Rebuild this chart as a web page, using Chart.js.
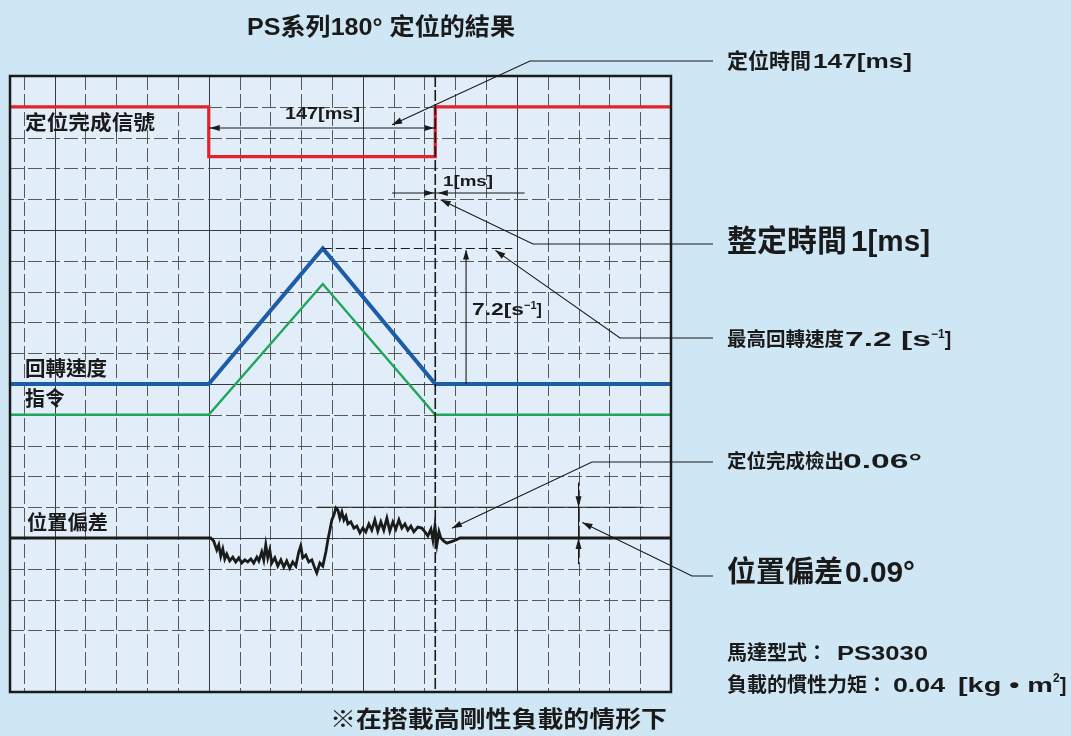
<!DOCTYPE html>
<html>
<head>
<meta charset="utf-8">
<title>PS系列180° 定位的結果</title>
<script src="https://cdn.jsdelivr.net/npm/chart.js@4.4.1/dist/chart.umd.min.js"></script>
<style>
  html, body { margin: 0; padding: 0; background: #cfe7f5; }
  canvas { display: block; }
</style>
</head>
<body>
<canvas id="scope" width="1071" height="736"></canvas>
<script>
// ---- time axis (ms) and screen divisions ----
const timeRange = [-129, 300];
const timeGrid = [-120, -100, -80, -60, -40, -20, 0, 20, 40, 60, 80, 100, 120, 140, 160, 180, 200, 220, 240, 260, 280];
const divRange = [0, 20];
const divGrid = [2, 3, 4, 5, 6, 7, 8, 9, 10, 11, 12, 13, 14, 15, 16, 17, 18, 19];

// ---- in-position signal (logic level) ----
const signalTime = [-129, 0, 0, 147, 147, 300];
const signalLevel = [1, 1, 0, 0, 1, 1];

// ---- rotation speed and command [s^-1] ----
const speedTime = [-129, 0, 74, 147, 300];
const speedValue = [0, 0, 7.2, 0, 0];
const commandValue = [0, 0, 6.95, 0, 0];

// ---- position deviation [deg] ----
const deviationTime = [-129, 1.3, 3.2, 5.2, 6.5, 7.8, 9.1, 10.4, 11.7, 13.6, 15.6, 17.5, 19.5, 21.4, 23.4, 25.3, 27.3, 29.2,
  31.2, 32.5, 34.4, 35.7, 37.0, 38.3, 39.6, 40.9, 42.9, 44.8, 46.8, 48.7, 50.6, 52.6, 54.5, 56.5, 58.4, 59.7, 61.0, 63.0,
  64.9, 66.9, 68.8, 70.1, 72.1, 74.0, 76.0, 77.3, 78.6, 79.9, 81.2, 82.5, 83.8, 85.1, 86.4, 87.7, 89.0, 90.3, 92.2, 94.2,
  96.1, 98.1, 100.0, 101.9, 103.9, 105.8, 107.8, 109.7, 111.7, 113.6, 115.6, 117.5, 119.5, 121.4, 123.4, 125.3, 127.3,
  129.2, 131.2, 133.1, 135.7, 138.3, 140.3, 142.2, 144.2, 145.5, 146.8, 148.1, 149.4, 150.6, 152.6, 154.5, 156.5, 158.4,
  160.4, 163.0, 300];
const deviationDeg = [0, 0, -0.009, -0.035, -0.020, -0.053, -0.032, -0.061, -0.047, -0.067, -0.056, -0.070, -0.058, -0.073,
  -0.064, -0.070, -0.061, -0.073, -0.056, -0.067, -0.041, -0.064, -0.020, -0.058, -0.035, -0.073, -0.058, -0.082, -0.064,
  -0.085, -0.067, -0.088, -0.070, -0.082, -0.041, -0.023, -0.058, -0.050, -0.070, -0.064, -0.088, -0.102, -0.073, -0.082,
  -0.041, -0.006, 0.023, 0.053, 0.067, 0.088, 0.082, 0.058, 0.076, 0.053, 0.064, 0.041, 0.047, 0.029, 0.035, 0.015, 0.029,
  0.018, 0.041, 0.023, 0.053, 0.020, 0.047, 0.023, 0.058, 0.020, 0.047, 0.026, 0.053, 0.029, 0.041, 0.023, 0.035, 0.018,
  0.032, 0.029, 0.018, 0.006, 0.026, -0.006, 0.035, -0.018, 0.018, 0, -0.009, -0.015, -0.012, -0.009, -0.006, 0, 0];

// channel position on screen (div) and sensitivity (units per div)
const channels = {
  signal:    { offset: 17.38, perDiv: 1 / 1.62 },
  speed:     { offset: 10,    perDiv: 7.2 / 4.4 },
  command:   { offset: 9,     perDiv: 7.2 / 4.4 },
  deviation: { offset: 5,     perDiv: 0.09 }
};

function trace(times, values, ch) {
  return times.map((t, i) => ({ x: t, y: ch.offset + values[i] / ch.perDiv }));
}

const FONT = '"Liberation Sans", "Noto Sans CJK TC", sans-serif';
const INK = '#1a1a1a';

function arrowHead(ctx, tx, ty, fromX, fromY, len, half) {
  const a = Math.atan2(ty - fromY, tx - fromX);
  ctx.beginPath();
  ctx.moveTo(tx, ty);
  ctx.lineTo(tx - len * Math.cos(a) + half * Math.sin(a), ty - len * Math.sin(a) - half * Math.cos(a));
  ctx.lineTo(tx - len * Math.cos(a) - half * Math.sin(a), ty - len * Math.sin(a) + half * Math.cos(a));
  ctx.closePath();
  ctx.fill();
}

function leader(ctx, pts) {
  ctx.beginPath();
  ctx.moveTo(pts[0][0], pts[0][1]);
  for (let i = 1; i < pts.length; i++) ctx.lineTo(pts[i][0], pts[i][1]);
  ctx.stroke();
  arrowHead(ctx, pts[0][0], pts[0][1], pts[1][0], pts[1][1], 10, 3.2);
}

// text runs: [string, size, raise, {x: start, w: width}]
function runs(ctx, parts, x, y, weight) {
  let cx = x;
  for (const p of parts) {
    const t = p[0], size = p[1], raise = p[2] || 0, o = p[3] || {};
    ctx.font = (weight || 'bold') + ' ' + size + 'px ' + FONT;
    if (o.x !== undefined) cx = o.x;
    const nat = ctx.measureText(t).width;
    const w = o.w || nat;
    ctx.save();
    ctx.translate(cx, y - raise);
    ctx.scale(w / nat, 1);
    ctx.fillText(t, 0, 0);
    ctx.restore();
    cx += w;
  }
}

const scopePlugin = {
  id: 'scope',
  beforeDraw(chart) {
    const { ctx, chartArea: a } = chart;
    ctx.save();
    ctx.fillStyle = '#cfe7f5';
    ctx.fillRect(0, 0, chart.width, chart.height);
    ctx.fillStyle = '#e1eef9';
    ctx.fillRect(a.left, a.top, a.right - a.left, a.bottom - a.top);
    ctx.restore();
  },
  beforeDatasetsDraw(chart) {
    const { ctx, chartArea: a, scales: { x, y } } = chart;
    ctx.save();
    ctx.lineWidth = 1;
    for (const t of timeGrid) {
      const px = Math.round(x.getPixelForValue(t)) + 0.5;
      const major = t % 100 === 0;
      ctx.setLineDash(major ? [] : [14, 4]);
      ctx.strokeStyle = major ? '#3a3a3a' : '#585858';
      ctx.beginPath(); ctx.moveTo(px, a.top); ctx.lineTo(px, a.bottom); ctx.stroke();
    }
    for (const d of divGrid) {
      const py = Math.round(y.getPixelForValue(d)) + 0.5;
      const major = d % 5 === 0;
      ctx.setLineDash(major ? [] : [14, 4]);
      ctx.strokeStyle = major ? '#3a3a3a' : '#585858';
      ctx.beginPath(); ctx.moveTo(a.left, py); ctx.lineTo(a.right, py); ctx.stroke();
    }
    ctx.restore();
  },
  afterDatasetsDraw(chart) {
    const { ctx, chartArea: a, scales: { x, y } } = chart;
    const X = v => x.getPixelForValue(v);
    const Y = v => y.getPixelForValue(v);
    ctx.save();
    ctx.strokeStyle = INK;
    ctx.fillStyle = INK;

    // settling marker at 147 ms
    ctx.lineWidth = 1.6;
    ctx.setLineDash([11, 3]);
    ctx.beginPath(); ctx.moveTo(X(147), a.top); ctx.lineTo(X(147), a.bottom); ctx.stroke();
    ctx.setLineDash([]);

    // frame
    ctx.lineWidth = 2.5;
    ctx.strokeRect(a.left, a.top, a.right - a.left, a.bottom - a.top);

    ctx.lineWidth = 1.1;
    ctx.textBaseline = 'middle';

    // positioning time 147 ms
    const yd = Y(18.31);
    ctx.beginPath(); ctx.moveTo(X(0), yd); ctx.lineTo(X(147), yd); ctx.stroke();
    arrowHead(ctx, X(0) + 1, yd, X(20), yd, 10, 3);
    arrowHead(ctx, X(147) - 1, yd, X(127), yd, 10, 3);
    runs(ctx, [['147[ms]', 16, 0, { w: 75 }]], 285, 115);
    leader(ctx, [[X(119), Y(18.42)], [530, 61], [713, 61]]);

    // settling time 1 ms
    const ys = Y(16.2);
    ctx.beginPath(); ctx.moveTo(X(119), ys); ctx.lineTo(X(205), ys); ctx.stroke();
    arrowHead(ctx, X(147) - 1, ys, X(130), ys, 10, 3);
    arrowHead(ctx, X(148) + 1, ys, X(165), ys, 10, 3);
    runs(ctx, [['1[ms]', 15, 0, { w: 50 }]], 443, 182);
    leader(ctx, [[X(150.5), Y(15.98)], [533, 244], [713, 244]]);

    // peak speed 7.2
    const yp = Y(14.4);
    ctx.setLineDash([9, 4]);
    ctx.beginPath(); ctx.moveTo(X(74), yp); ctx.lineTo(X(197), yp); ctx.stroke();
    ctx.setLineDash([]);
    ctx.beginPath(); ctx.moveTo(X(167), Y(10)); ctx.lineTo(X(167), yp + 2); ctx.stroke();
    arrowHead(ctx, X(167), yp + 1, X(167), yp + 20, 10, 3);
    runs(ctx, [['7.2[s', 16, 0, { w: 52 }], ['−1', 11, 5], [']', 16]], 472, 311);
    leader(ctx, [[X(186), Y(14.34)], [620, 338], [713, 338]]);

    // in-position detection window
    ctx.beginPath(); ctx.moveTo(X(70.5), Y(6)); ctx.lineTo(X(282), Y(6)); ctx.stroke();
    leader(ctx, [[X(157.8), Y(5.32)], [592, 462], [713, 462]]);

    // position deviation 0.09 deg
    const xa = X(240);
    ctx.beginPath(); ctx.moveTo(xa, Y(6.8)); ctx.lineTo(xa, Y(4.15)); ctx.stroke();
    arrowHead(ctx, xa, Y(6), xa, Y(6.8), 11, 3);
    arrowHead(ctx, xa, Y(5), xa, Y(4.2), 11, 3);
    leader(ctx, [[X(242.5), Y(5.5)], [692, 576], [713, 576]]);

    // trace labels
    runs(ctx, [['定位完成信號', 20, 0, { w: 130 }]], 25, 124);
    runs(ctx, [['回轉速度', 20, 0, { w: 82 }]], 25, 370);
    runs(ctx, [['指令', 20, 0, { w: 40 }]], 25, 400);
    runs(ctx, [['位置偏差', 20, 0, { w: 81 }]], 27, 524);

    // title and note
    runs(ctx, [['PS系列180° 定位的結果', 24, 0, { w: 268 }]], 247, 28);
    runs(ctx, [['※在搭載高剛性負載的情形下', 23, 0, { w: 337 }]], 330, 721);

    // callouts
    runs(ctx, [['定位時間', 21], ['147[ms]', 21, 0, { x: 813, w: 99 }]], 727, 62);
    runs(ctx, [['整定時間', 30], ['1[ms]', 30, 0, { x: 851, w: 79 }]], 727, 243);
    runs(ctx, [['最高回轉速度', 19.5], ['7.2 [s', 19.5, 0, { x: 845, w: 86 }], ['−1', 12, 6], [']', 19.5]], 727, 341);
    runs(ctx, [['定位完成檢出', 19.5], ['0.06°', 19.5, 0, { x: 843, w: 79 }]], 727, 463);
    runs(ctx, [['位置偏差', 29], ['0.09°', 29, 0, { x: 845, w: 70 }]], 727, 574);
    runs(ctx, [['馬達型式：', 20], ['PS3030', 20, 0, { x: 837, w: 91 }]], 727, 654);
    runs(ctx, [['負載的慣性力矩：', 20], ['0.04', 20, 0, { x: 893, w: 52 }],
               ['[kg • m', 20, 0, { x: 958, w: 95 }], ['2', 12, 7], [']', 20]], 727, 686);
    ctx.restore();
  }
};

const lineStyle = { pointRadius: 0, tension: 0, fill: false };

new Chart(document.getElementById('scope'), {
  type: 'line',
  data: {
    datasets: [
      { label: '定位完成信號', data: trace(signalTime, signalLevel, channels.signal),
        borderColor: '#e3222c', borderWidth: 3.2, ...lineStyle },
      { label: '指令', data: trace(speedTime, commandValue, channels.command),
        borderColor: '#20a65a', borderWidth: 2.4, ...lineStyle },
      { label: '回轉速度', data: trace(speedTime, speedValue, channels.speed),
        borderColor: '#1d5ca6', borderWidth: 4, ...lineStyle },
      { label: '位置偏差', data: trace(deviationTime, deviationDeg, channels.deviation),
        borderColor: '#1b1b1b', borderWidth: 2.8, ...lineStyle }
    ]
  },
  options: {
    responsive: false,
    devicePixelRatio: 1,
    animation: false,
    layout: { padding: { left: 10, top: 76, right: 400, bottom: 44 } },
    plugins: { legend: { display: false }, tooltip: { enabled: false }, title: { display: false } },
    scales: {
      x: { type: 'linear', min: timeRange[0], max: timeRange[1], display: false },
      y: { type: 'linear', min: divRange[0], max: divRange[1], display: false }
    }
  },
  plugins: [scopePlugin]
});
</script>
</body>
</html>
